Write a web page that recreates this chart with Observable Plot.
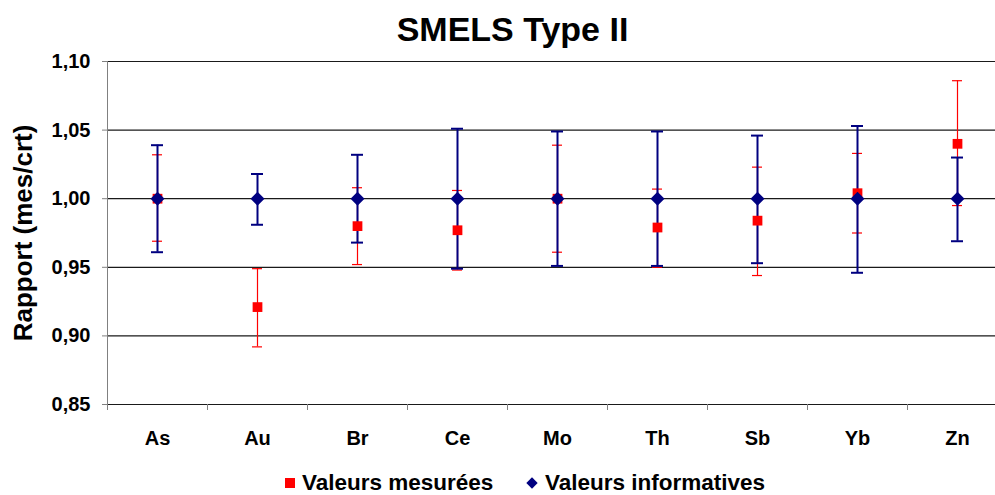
<!DOCTYPE html>
<html>
<head>
<meta charset="utf-8">
<script src="https://cdn.jsdelivr.net/npm/d3@7"></script>
<script src="https://cdn.jsdelivr.net/npm/@observablehq/plot@0.6"></script>
<style>
  html, body { margin: 0; padding: 0; background: #fff; }
  body { width: 995px; height: 495px; overflow: hidden; position: relative;
         font-family: "Liberation Sans", Arial, sans-serif; font-weight: bold; color: #000; }
  #title { position: absolute; top: 9px; left: 15px; width: 995px; text-align: center;
           font-size: 34px; line-height: 40px; }
  #chart { position: absolute; top: 50px; left: 0; }
  .legend { position: absolute; top: 471px; font-size: 22.5px; line-height: 24px; white-space: nowrap; }
  .sw { position: absolute; }
</style>
</head>
<body>
<div id="title">SMELS Type II</div>
<div id="chart"></div>
<span class="sw" style="left:285px;top:478px;width:10px;height:10px;background:#ff0000"></span>
<div class="legend" style="left:302px">Valeurs mesurées</div>
<span class="sw" style="left:528px;top:479px;width:8px;height:8px;background:#000080;transform:rotate(45deg)"></span>
<div class="legend" style="left:545px">Valeurs informatives</div>
<script>
// Elements
const elements = ["As", "Au", "Br", "Ce", "Mo", "Th", "Sb", "Yb", "Zn"];

// Measured values (red squares) with their uncertainty interval
const mesValue = [1.000, 0.921, 0.980, 0.977, 1.000, 0.979, 0.984, 1.004, 1.040];
const mesLow   = [0.969, 0.892, 0.952, 0.948, 0.961, 0.950, 0.944, 0.975, 0.995];
const mesHigh  = [1.032, 0.949, 1.008, 1.006, 1.039, 1.007, 1.023, 1.033, 1.086];

// Informative values (navy diamonds) with their interval
const infValue = [1.000, 1.000, 1.000, 1.000, 1.000, 1.000, 1.000, 1.000, 1.000];
const infLow   = [0.961, 0.981, 0.968, 0.949, 0.951, 0.951, 0.953, 0.946, 0.969];
const infHigh  = [1.039, 1.018, 1.032, 1.051, 1.049, 1.049, 1.046, 1.053, 1.030];

// Y axis ticks
const yTicks = [0.85, 0.90, 0.95, 1.00, 1.05, 1.10];
const yLabel = "Rapport (mes/crt)";

const RED = "#ff0000";
const NAVY = "#000080";

const mes = elements.map((name, i) => ({name, pos: i + 0.5, v: mesValue[i], lo: mesLow[i], hi: mesHigh[i]}));
const inf = elements.map((name, i) => ({name, pos: i + 0.5, v: infValue[i], lo: infLow[i], hi: infHigh[i]}));

const fmt = d3.format(".2f");
const frFmt = v => fmt(v).replace(".", ",");

// Horizontal caps at both ends of an interval
function caps(data, stroke, half, width) {
  const opts = {x1: "pos", x2: "pos", stroke, strokeWidth: width, insetLeft: -half, insetRight: -half};
  return [
    Plot.ruleY(data, {...opts, y: "lo"}),
    Plot.ruleY(data, {...opts, y: "hi"})
  ];
}

const chart = Plot.plot({
  width: 995,
  height: 410,
  marginLeft: 107,
  marginRight: 0,
  marginTop: 11,
  marginBottom: 56,
  style: {fontFamily: "'Liberation Sans', Arial, sans-serif", fontWeight: "bold", fontSize: "20px", color: "#000", background: "transparent", overflow: "hidden"},
  x: {domain: [0, elements.length], range: [107, 107 + 100 * elements.length]},
  y: {domain: [yTicks[0], yTicks[yTicks.length - 1]]},
  marks: [
    // horizontal gridlines
    Plot.ruleY(yTicks, {stroke: "#1a1a1a", strokeWidth: 1.2}),
    // y axis line
    Plot.ruleX([0], {y1: yTicks[0], y2: yTicks[yTicks.length - 1], stroke: "#808080"}),
    Plot.axisY({ticks: yTicks, tickFormat: frFmt, tickSize: 5, tickPadding: 12, stroke: "#808080", fontSize: 20, label: null}),
    // category boundary ticks
    Plot.axisX({ticks: d3.range(elements.length + 1), tickFormat: () => "", tickSize: 6, stroke: "#808080", label: null}),
    // category labels
    Plot.axisX({ticks: mes.map(d => d.pos), tickFormat: p => elements[Math.floor(p)], tickSize: 0, tickPadding: 26, fontSize: 20, label: null}),
    // y title
    Plot.text([yLabel], {frameAnchor: "left", rotate: -90, dx: -84, textAnchor: "middle", lineAnchor: "middle", fontSize: 26, fontWeight: "bold", fill: "#000"}),
    // measured: error bars
    Plot.ruleX(mes, {x: "pos", y1: "lo", y2: "hi", stroke: RED, strokeWidth: 1.2}),
    ...caps(mes, RED, 5, 1.2),
    // informative: error bars
    Plot.ruleX(inf, {x: "pos", y1: "lo", y2: "hi", stroke: NAVY, strokeWidth: 2}),
    ...caps(inf, NAVY, 6, 2),
    // markers
    Plot.dot(mes, {x: "pos", y: "v", symbol: "square", r: 5.5, fill: RED, stroke: "none"}),
    Plot.dot(inf, {x: "pos", y: "v", symbol: "diamond2", r: 6.3, fill: NAVY, stroke: "none"})
  ]
});
document.getElementById("chart").appendChild(chart);
</script>
</body>
</html>
